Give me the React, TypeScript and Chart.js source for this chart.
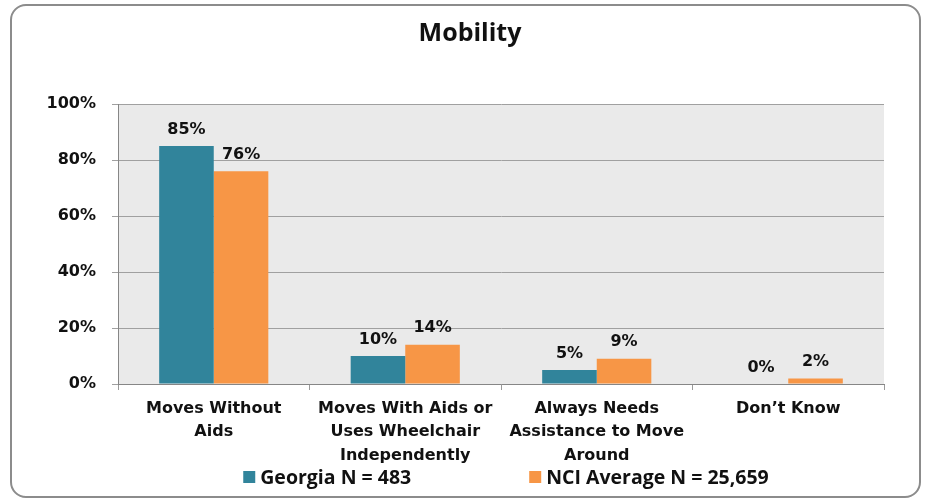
import React, { useEffect, useRef } from "react";
import { Chart, registerables } from "chart.js";

Chart.register(...registerables);

const TITLE = "Mobility";
const categories: (string | string[])[] = [
  ["Moves Without", "Aids"],
  ["Moves With Aids or", "Uses Wheelchair", "Independently"],
  ["Always Needs", "Assistance to Move", "Around"],
  ["Don\u2019t Know"],
];
const seriesNames = ["Georgia N = 483", "NCI Average N = 25,659"];
const georgiaValues = [85, 10, 5, 0];
const nciValues = [76, 14, 9, 2];
const seriesColors = ["#31849B", "#F79646"];
const yTicks = [0, 20, 40, 60, 80, 100];

const LABEL_FONT = "'DejaVu Sans', Verdana, sans-serif";
const LEGEND_FONT = "'Open Sans', 'Noto Sans', sans-serif";

const plotBgPlugin = {
  id: "plotBg",
  beforeDraw(chart: any) {
    const { ctx, chartArea } = chart;
    ctx.save();
    ctx.fillStyle = "#EAEAEA";
    ctx.fillRect(chartArea.left, chartArea.top, chartArea.right - chartArea.left, chartArea.bottom - chartArea.top);
    ctx.restore();
  },
};

const titlePlugin = {
  id: "customTitle",
  afterDraw(chart: any) {
    const { ctx, width } = chart;
    ctx.save();
    ctx.font = `bold 25px ${LEGEND_FONT}`;
    ctx.fillStyle = "#111111";
    ctx.textAlign = "center";
    ctx.textBaseline = "middle";
    ctx.fillText(TITLE, width / 2 + 5, 34);
    ctx.restore();
  },
};

const dataLabelPlugin = {
  id: "dataLabels",
  afterDatasetsDraw(chart: any) {
    const { ctx } = chart;
    ctx.save();
    ctx.font = `bold 16px ${LABEL_FONT}`;
    ctx.fillStyle = "#111111";
    ctx.textAlign = "center";
    ctx.textBaseline = "alphabetic";
    chart.data.datasets.forEach((ds: any, di: number) => {
      const meta = chart.getDatasetMeta(di);
      meta.data.forEach((el: any, i: number) => {
        ctx.fillText(`${ds.data[i]}%`, el.x, el.y - 12.5);
      });
    });
    ctx.restore();
  },
};

const legendPlugin = {
  id: "customLegend",
  afterDraw(chart: any) {
    const { ctx, chartArea } = chart;
    ctx.save();
    ctx.font = `bold 19.5px ${LEGEND_FONT}`;
    ctx.textBaseline = "middle";
    ctx.textAlign = "left";
    const box = 12;
    const gapBoxText = 5;
    const gapItems = 118;
    const items = chart.data.datasets.map((ds: any) => ({
      text: ds.label,
      color: ds.backgroundColor,
      w: box + gapBoxText + ctx.measureText(ds.label).width,
    }));
    const total = items.reduce((s: number, it: any) => s + it.w, 0) + gapItems * (items.length - 1);
    const cx = (chartArea.left + chartArea.right) / 2 + 5;
    let x = cx - total / 2;
    const y = 477;
    items.forEach((it: any) => {
      ctx.fillStyle = it.color;
      ctx.fillRect(x, y - box / 2, box, box);
      ctx.fillStyle = "#111111";
      ctx.fillText(it.text, x + box + gapBoxText, y + 1);
      x += it.w + gapItems;
    });
    ctx.restore();
  },
};

export default function App() {
  const canvasRef = useRef<HTMLCanvasElement | null>(null);

  useEffect(() => {
    if (!canvasRef.current) return;
    const chart = new Chart(canvasRef.current, {
      type: "bar",
      data: {
        labels: categories,
        datasets: [
          {
            label: seriesNames[0],
            data: georgiaValues,
            backgroundColor: seriesColors[0],
            categoryPercentage: 0.57,
            barPercentage: 1,
          },
          {
            label: seriesNames[1],
            data: nciValues,
            backgroundColor: seriesColors[1],
            categoryPercentage: 0.57,
            barPercentage: 1,
          },
        ],
      },
      options: {
        animation: false,
        responsive: false,
        devicePixelRatio: 1,
        layout: { padding: { left: 0, right: 46, top: 104, bottom: 0 } },
        plugins: {
          legend: { display: false },
          tooltip: { enabled: false },
          title: { display: false },
        },
        scales: {
          x: {
            offset: true,
            grid: {
              display: true,
              drawOnChartArea: false,
              drawTicks: true,
              tickLength: 6,
              color: "#9A9A9A",
              offset: true,
            },
            border: { display: true, color: "#868686", width: 1 },
            ticks: {
              color: "#111111",
              font: { family: LABEL_FONT, size: 16, weight: "bold", lineHeight: 1.47 },
              padding: 7,
              maxRotation: 0,
              minRotation: 0,
              autoSkip: false,
            },
            afterFit(scale: any) {
              scale.height = 118;
            },
          },
          y: {
            min: 0,
            max: 100,
            afterBuildTicks(scale: any) {
              scale.ticks = yTicks.map((v) => ({ value: v }));
            },
            grid: {
              display: true,
              color: "#A0A0A0",
              tickLength: 6,
              drawTicks: true,
            },
            border: { display: true, color: "#868686", width: 1 },
            ticks: {
              color: "#111111",
              font: { family: LABEL_FONT, size: 16, weight: "bold" },
              padding: 16,
              callback: (v: any) => `${v}%`,
            },
            afterFit(scale: any) {
              scale.width = 118;
            },
          },
        },
      },
      plugins: [plotBgPlugin, dataLabelPlugin, titlePlugin, legendPlugin],
    });
    return () => chart.destroy();
  }, []);

  return (
    <div style={{ position: "absolute", left: 0, top: 0, width: 930, height: 502, background: "#fff" }}>
      <div
        style={{
          position: "absolute",
          left: 10,
          top: 4,
          width: 911,
          height: 494,
          boxSizing: "border-box",
          border: "2px solid #8C8C8C",
          borderRadius: 16,
        }}
      />
      <canvas
        ref={canvasRef}
        width={930}
        height={502}
        style={{ position: "absolute", left: 0, top: 0, width: 930, height: 502, display: "block" }}
      />
    </div>
  );
}
